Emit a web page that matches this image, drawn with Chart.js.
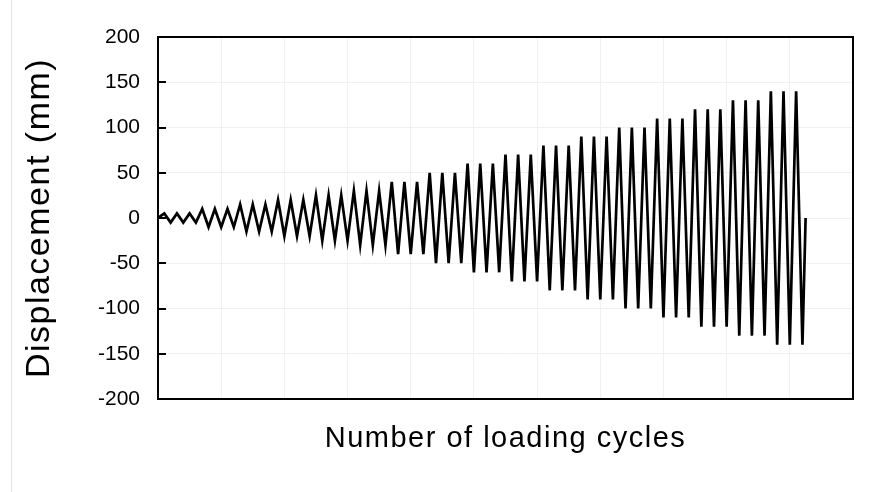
<!DOCTYPE html>
<html>
<head>
<meta charset="utf-8">
<script src="https://cdn.jsdelivr.net/npm/chart.js@4.4.1/dist/chart.umd.min.js"></script>
<style>
  html, body { margin: 0; padding: 0; background: #fff; }
  #wrap { width: 876px; height: 492px; position: relative; }
</style>
</head>
<body>
<div id="wrap"><canvas id="protocolChart" width="876" height="492"></canvas></div>
<script>
/* =========================================================
   LOADING PROTOCOL DATA
========================================================= */
// displacement amplitude of each loading level (mm)
const amplitudes = [5, 10, 15, 20, 25, 30, 40, 50, 60, 70, 80, 90, 100, 110, 120, 130, 140];
// cycles repeated at every level
const cyclesPerLevel = [3, 3, 3, 3, 3, 3, 3, 3, 3, 3, 3, 3, 3, 3, 3, 3, 3];
// axis ticks
const yTicks = [-200, -150, -100, -50, 0, 50, 100, 150, 200];
const xRange = [0, 55];
const xStep = 5;

/* =========================================================
   HELPERS
========================================================= */
// zig-zag history: push to +A, pull to -A, once per cycle
function buildHistory() {
  const pts = [{ x: 0, y: 0 }];
  let n = 0;
  amplitudes.forEach((amp, i) => {
    for (let c = 0; c < cyclesPerLevel[i]; c++) {
      pts.push({ x: n + 0.5, y: amp });
      pts.push({ x: n + 1, y: -amp });
      n++;
    }
  });
  pts.push({ x: n + 0.25, y: 0 });
  return pts;
}

// axis titles get a little extra letter spacing; tick labels (drawn
// after the datasets, ticks.z = 1) go back to normal spacing
const spacing = {
  id: "spacing",
  beforeDraw(chart) { chart.ctx.letterSpacing = "1.5px"; },
  afterDatasetsDraw(chart) { chart.ctx.letterSpacing = "0px"; }
};

// black frame round the plot plus short inward ticks on the y axis
const frame = {
  id: "frame",
  afterDraw(chart) {
    const { ctx, chartArea: a, scales } = chart;
    ctx.save();
    ctx.strokeStyle = "#000";
    ctx.lineWidth = 2;
    ctx.beginPath();
    yTicks.forEach(v => {
      const y = Math.round(scales.y.getPixelForValue(v));
      ctx.moveTo(a.left, y);
      ctx.lineTo(a.left + 8, y);
    });
    ctx.stroke();
    ctx.strokeRect(a.left, a.top, a.right - a.left, a.bottom - a.top);
    // faint edge of the figure on the left
    ctx.strokeStyle = "#e3e3e3";
    ctx.lineWidth = 1;
    ctx.beginPath();
    ctx.moveTo(11.5, 0);
    ctx.lineTo(11.5, chart.height);
    ctx.stroke();
    ctx.restore();
  }
};

/* =========================================================
   CHART
========================================================= */
const font = "'Liberation Sans', Arial, sans-serif";

new Chart(document.getElementById("protocolChart"), {
  type: "line",
  data: {
    datasets: [{
      data: buildHistory(),
      borderColor: "#000",
      borderWidth: 2.7,
      pointRadius: 0,
      tension: 0,
      fill: false
    }]
  },
  options: {
    responsive: false,
    animation: false,
    layout: { padding: { left: 10, top: 37, right: 23, bottom: 0 } },
    plugins: {
      legend: { display: false },
      tooltip: { enabled: false }
    },
    scales: {
      x: {
        type: "linear",
        min: xRange[0],
        max: xRange[1],
        ticks: { display: false, stepSize: xStep, z: 1 },
        grid: { color: "#f0f0f0", lineWidth: 1, drawTicks: false },
        border: { display: false },
        title: {
          display: true,
          text: "Number of loading cycles",
          color: "#000",
          font: { family: font, size: 29 },
          padding: { top: 0, bottom: 36 }
        },
        afterFit: s => { s.height = 93; }
      },
      y: {
        min: -200,
        max: 200,
        afterBuildTicks: s => { s.ticks = yTicks.map(v => ({ value: v })); },
        ticks: {
          color: "#000",
          font: { family: font, size: 21 },
          padding: 18,
          z: 1
        },
        grid: { color: "#f0f0f0", lineWidth: 1, drawTicks: false },
        border: { display: false },
        title: {
          display: true,
          text: "Displacement (mm)",
          color: "#000",
          font: { family: font, size: 34 },
          padding: { top: 9, bottom: 0 }
        },
        afterFit: s => { s.width = 148; }
      }
    }
  },
  plugins: [spacing, frame]
});
</script>
</body>
</html>
